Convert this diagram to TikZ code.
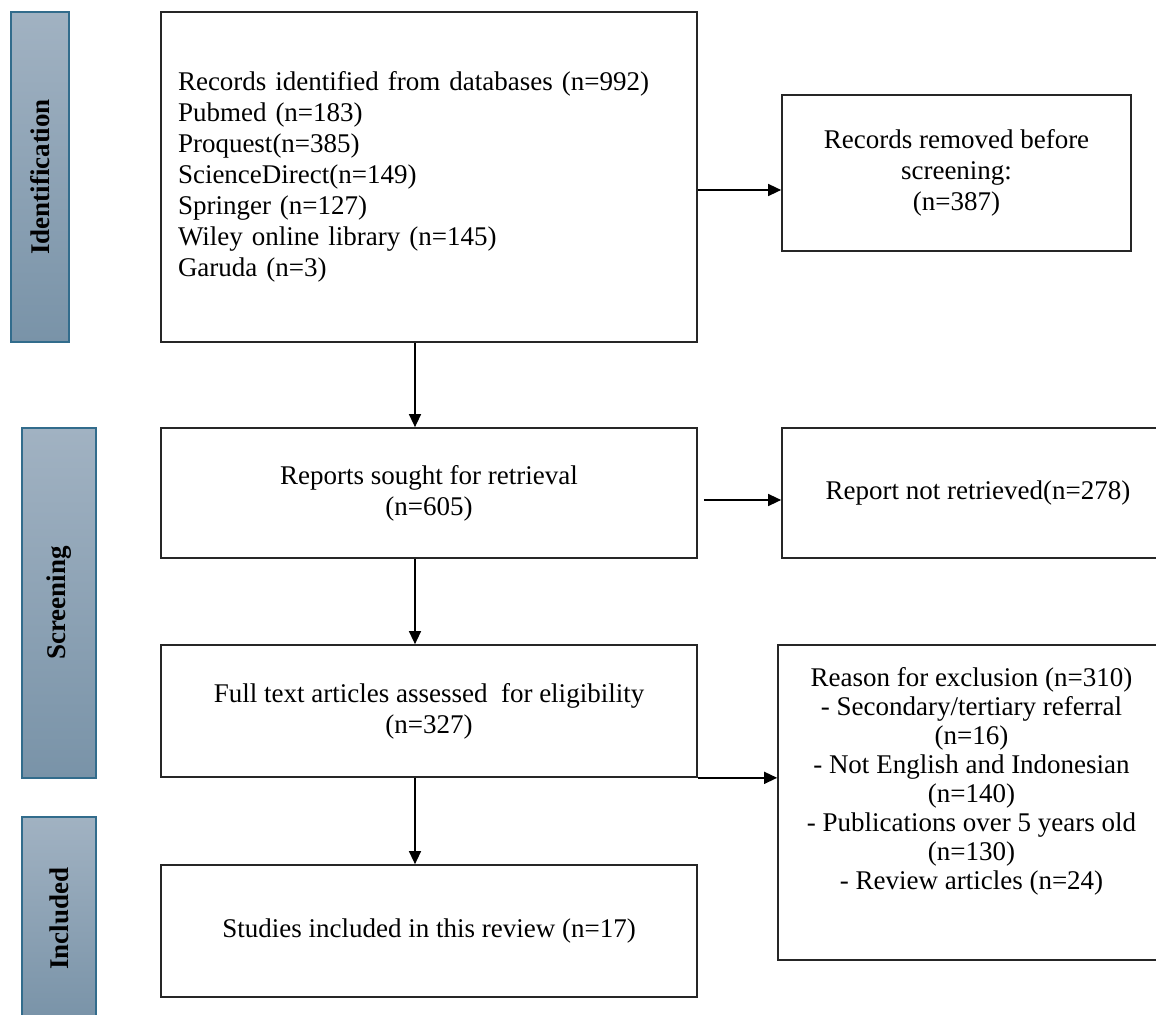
\documentclass[tikz,border=0pt]{standalone}
\usepackage{fontspec}
\setmainfont{Liberation Serif}
\usepackage{graphicx}
\usepackage{xcolor}
\usetikzlibrary{arrows.meta}

\definecolor{bartop}{RGB}{161,178,194}
\definecolor{barbot}{RGB}{121,147,168}
\definecolor{barline}{RGB}{50,108,140}

\begin{document}
\begin{tikzpicture}[x=0.5pt, y=-0.5pt,
    box/.style={draw=black!85, line width=0.85pt, align=center, inner sep=0pt,
        font=\fontsize{13.5}{15.5}\selectfont},
    stage/.style={draw=barline, line width=1pt, top color=bartop, bottom color=barbot,
        inner sep=0pt, font=\fontsize{13.5}{15.5}\selectfont\bfseries},
    arr/.style={-{Triangle[length=6.5pt,width=6pt]}, line width=0.7pt}]
    \useasboundingbox (0,0) rectangle (1156,1015);
    \clip (0,0) rectangle (1156,1015);

    % Stage bars
    \node[stage, minimum width=29pt, minimum height=165pt] (ident) at (40,177) {\rotatebox{90}{Identification}};
    \node[stage, minimum width=37pt, minimum height=175pt] (screen) at (59,603) {\rotatebox{90}{Screening}};
    \node[stage, minimum width=37pt, minimum height=101.5pt] (incl) at (59,918.5) {\rotatebox{90}{Included}};

    % Identification
    \node[box, align=left, text width=251pt, minimum width=268pt, minimum height=165pt] (rec) at (429,177)
        {Records identified from databases (n=992)\\Pubmed (n=183)\\Proquest(n=385)\\ScienceDirect(n=149)\\Springer (n=127)\\Wiley online library (n=145)\\Garuda (n=3)\\[-6pt]};
    \node[box, minimum width=174.5pt, minimum height=78pt] (removed) at (956.5,173)
        {Records removed before\\screening:\\(n=387)};

    % Screening
    \node[box, minimum width=268pt, minimum height=65pt] (sought) at (429,493)
        {Reports sought for retrieval\\(n=605)};
    \node[box, minimum width=196pt, minimum height=65pt] (notret) at (978,493)
        {Report not retrieved(n=278)};
    \node[box, minimum width=268pt, minimum height=66pt] (full) at (429,711)
        {Full text articles assessed \ for eligibility\\(n=327)};
    \node[box, font=\fontsize{13.5}{14.5}\selectfont, minimum width=193.5pt, minimum height=157.5pt] (excl) at (971.5,802.5)
        {Reason for exclusion (n=310)\\- Secondary/tertiary referral\\(n=16)\\- Not English and Indonesian\\(n=140)\\- Publications over 5 years old\\(n=130)\\- Review articles (n=24)\\[9.5pt]};

    % Included
    \node[box, minimum width=268pt, minimum height=66pt] (studies) at (429,931)
        {Studies included in this review (n=17)};

    % Arrows
    \draw[arr] (rec.east |- 0,190) -- (removed.west |- 0,190);
    \draw[arr] ([xshift=3pt]sought.east |- 0,500) -- (notret.west |- 0,500);
    \draw[arr] (full.south east) -- (excl.west |- full.south east);
    \draw[arr] (rec.south -| 415,0) -- (sought.north -| 415,0);
    \draw[arr] (sought.south -| 415,0) -- (full.north -| 415,0);
    \draw[arr] (full.south -| 415,0) -- (studies.north -| 415,0);
\end{tikzpicture}
\end{document}
